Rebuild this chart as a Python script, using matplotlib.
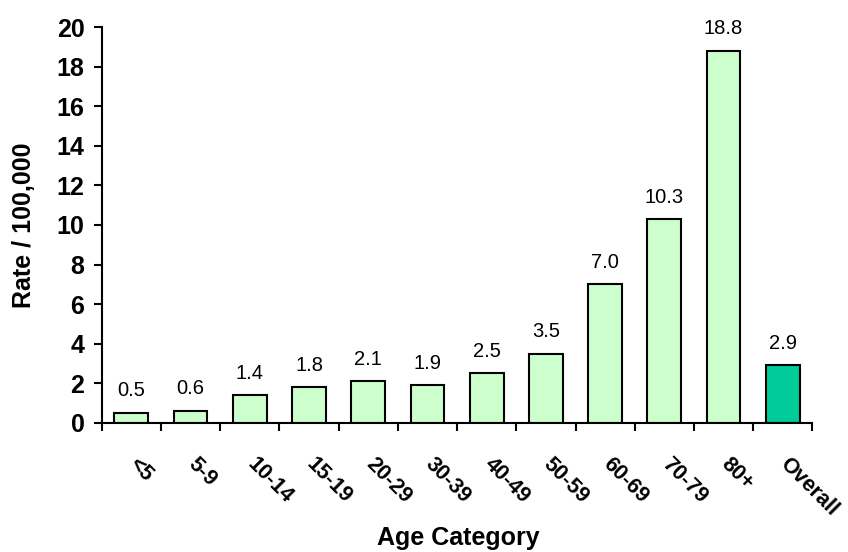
import matplotlib.pyplot as plt
import matplotlib.transforms as mtransforms
import numpy as np

categories = ['<5', '5-9', '10-14', '15-19', '20-29', '30-39', '40-49',
              '50-59', '60-69', '70-79', '80+', 'Overall']
rates = [0.5, 0.6, 1.4, 1.8, 2.1, 1.9, 2.5, 3.5, 7.0, 10.3, 18.8, 2.9]
value_labels = ['0.5', '0.6', '1.4', '1.8', '2.1', '1.9', '2.5', '3.5',
                '7.0', '10.3', '18.8', '2.9']

plt.rcParams['font.family'] = ['Liberation Sans', 'DejaVu Sans']

fig = plt.figure(figsize=(8.48, 5.52), dpi=100)
ax = fig.add_axes([0.120, 0.234, 0.838, 0.717])

x = np.arange(len(categories))
colors = ['#CCFFCC'] * (len(categories) - 1) + ['#00CC99']
bars = ax.bar(x, rates, width=0.57, color=colors, edgecolor='black', linewidth=1.5)

for xi, r, lab in zip(x, rates, value_labels):
    ax.annotate(lab, (xi, r), xytext=(0, 9), textcoords='offset points',
                ha='center', va='bottom', fontsize=14.5)

ax.set_xlim(-0.5, len(categories) - 0.5)
ax.set_ylim(0, 20)
ax.set_yticks(np.arange(0, 21, 2))
ax.tick_params(axis='y', labelsize=18, width=1.5, length=5.5, pad=7, direction='out')
for t in ax.get_yticklabels():
    t.set_fontweight('bold')

ax.set_xticks(x)
ax.set_xticklabels(categories, rotation=-45, ha='left', va='top',
                   rotation_mode='anchor', fontsize=15.5, fontweight='bold')
ax.tick_params(axis='x', which='major', length=0, pad=22)
shift = mtransforms.ScaledTranslation(8 / 100, 0, fig.dpi_scale_trans)
for t in ax.get_xticklabels():
    t.set_transform(t.get_transform() + shift)
ax.set_xticks(np.arange(-0.5, len(categories), 1), minor=True)
ax.tick_params(axis='x', which='minor', length=6, width=1.5, direction='out')

for s in ['top', 'right']:
    ax.spines[s].set_visible(False)
for s in ['left', 'bottom']:
    ax.spines[s].set_linewidth(1.5)

fig.text(0.540, 0.012, 'Age Category', ha='center', va='baseline',
         fontsize=18, fontweight='bold')
fig.text(0.028, 0.592, 'Rate / 100,000', ha='center', va='center',
         rotation=90, fontsize=18, fontweight='bold')

fig.savefig('out.png', dpi=100)
